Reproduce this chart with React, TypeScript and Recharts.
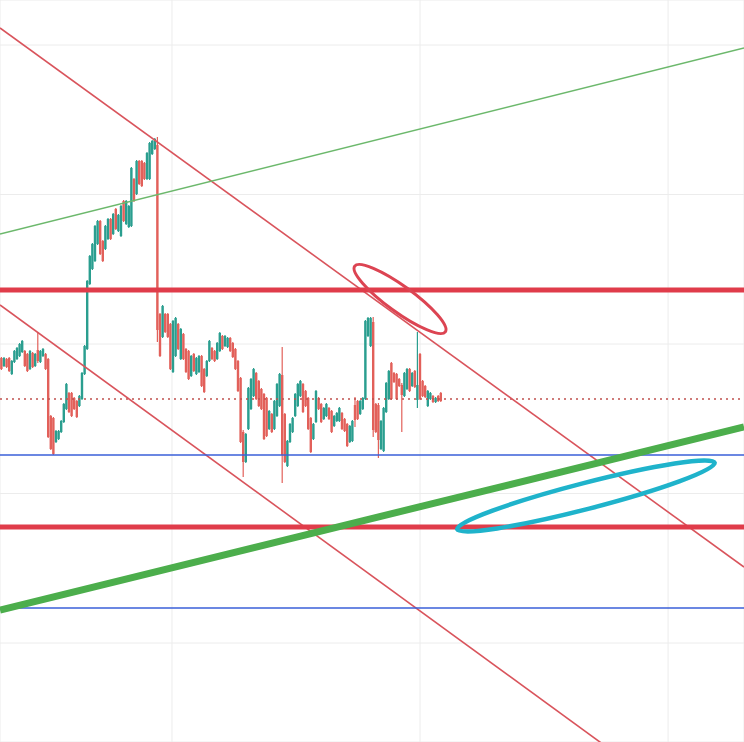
import React from "react";
import {
  ComposedChart,
  Bar,
  XAxis,
  YAxis,
  CartesianGrid,
  ReferenceLine,
  ReferenceDot,
} from "recharts";

// candle values (arbitrary price units), one entry per bar
const open = [
  38.4, 37.6, 38.3, 38.4, 36.8, 38.0, 38.3, 38.6, 39.0, 39.1,
  38.8, 37.3, 38.9, 37.6, 39.2, 38.0, 38.6, 38.8, 38.3, 32.6,
  32.4, 30.0, 30.3, 31.0, 32.0, 33.3, 34.9, 34.9, 34.4, 34.1,
  33.6, 34.3, 36.8, 39.3, 45.8, 47.3, 48.1, 49.8, 52.1, 50.1,
  49.3, 50.3, 52.3, 50.8, 53.3, 51.1, 50.6, 54.1, 51.8, 51.5,
  51.6, 56.3, 54.8, 58.1, 58.1, 57.9, 56.3, 56.3, 58.8, 59.3,
  59.7, 42.8, 40.5, 42.8, 42.8, 41.8, 37.0, 38.6, 41.8, 38.3,
  40.8, 39.3, 39.1, 36.6, 38.8, 36.8, 37.0, 38.6, 37.3, 36.6,
  38.1, 39.4, 39.1, 38.3, 39.1, 40.6, 39.6, 39.5, 40.4, 39.9,
  39.3, 38.1, 36.4, 31.0, 28.0, 31.3, 33.3, 34.6, 36.9, 36.1,
  35.3, 34.8, 34.4, 31.3, 32.8, 31.3, 32.6, 33.6, 36.7, 32.8,
  27.6, 30.0, 31.0, 32.6, 33.6, 34.6, 35.8, 35.1, 34.4, 32.4,
  30.3, 32.0, 34.4, 33.8, 32.3, 32.6, 33.4, 33.1, 31.6, 32.1,
  32.1, 32.9, 32.3, 31.8, 30.0, 30.1, 33.7, 34.1, 32.8, 33.3,
  34.3, 40.6, 39.6, 42.0, 33.8, 33.7, 29.3, 29.1, 33.0, 34.3,
  37.9, 36.9, 36.8, 36.3, 35.7, 34.6, 35.3, 37.3, 35.6, 37.1,
  34.2, 38.8, 36.1, 35.6, 33.6, 34.3, 34.6, 34.0, 34.6, 34.9,
];
const high = [
  38.5, 38.5, 38.4, 38.5, 38.2, 39.2, 39.5, 39.9, 40.2, 39.2,
  38.9, 39.2, 39.0, 38.9, 41.0, 39.2, 39.4, 38.9, 38.4, 32.7,
  32.5, 31.2, 31.2, 32.2, 33.9, 35.9, 35.0, 35.0, 34.5, 34.2,
  34.7, 37.0, 39.7, 46.2, 48.7, 49.9, 51.7, 52.2, 52.2, 50.2,
  51.7, 52.4, 52.4, 52.9, 53.4, 52.8, 53.7, 54.2, 54.2, 53.7,
  57.5, 56.4, 58.2, 58.2, 58.2, 58.0, 59.0, 60.0, 60.2, 60.4,
  60.5, 42.9, 43.7, 42.9, 42.9, 41.9, 42.2, 42.5, 41.9, 41.4,
  40.9, 39.4, 39.2, 38.7, 38.9, 38.5, 38.7, 38.7, 37.4, 38.2,
  40.2, 39.5, 39.2, 40.0, 41.0, 40.7, 40.7, 40.5, 40.5, 40.0,
  39.4, 38.2, 36.5, 31.2, 30.9, 35.5, 36.4, 37.4, 37.0, 36.2,
  35.4, 34.9, 34.5, 33.2, 32.9, 34.2, 35.9, 36.9, 39.5, 32.9,
  30.2, 31.9, 32.5, 34.9, 35.9, 36.2, 35.9, 35.2, 34.5, 32.5,
  31.9, 35.2, 34.5, 33.9, 33.5, 33.9, 33.5, 33.2, 32.7, 33.0,
  33.5, 33.0, 32.4, 31.9, 31.7, 32.2, 34.5, 34.2, 34.2, 34.5,
  42.2, 42.5, 42.5, 42.5, 33.9, 33.9, 32.2, 33.5, 36.0, 37.2,
  38.0, 37.0, 36.9, 36.4, 35.9, 37.0, 37.4, 37.4, 37.0, 37.2,
  41.0, 38.9, 36.2, 35.7, 35.2, 35.0, 34.7, 34.5, 34.7, 35.0,
];
const low = [
  37.2, 37.5, 37.4, 37.0, 36.7, 37.9, 38.2, 38.5, 38.9, 37.5,
  37.0, 37.2, 37.4, 37.5, 37.9, 37.9, 38.5, 37.2, 30.4, 29.2,
  28.7, 29.9, 30.2, 30.9, 31.9, 33.2, 32.9, 32.5, 33.2, 32.4,
  33.5, 34.2, 36.7, 39.2, 45.7, 47.2, 48.0, 49.7, 48.7, 48.0,
  49.2, 50.2, 50.2, 50.7, 51.2, 51.0, 50.5, 52.0, 51.7, 51.4,
  51.5, 54.0, 54.7, 55.7, 55.5, 56.2, 56.2, 56.2, 58.7, 59.2,
  40.0, 38.5, 40.4, 40.9, 40.4, 37.2, 36.9, 38.5, 39.2, 38.2,
  38.2, 36.9, 36.2, 36.5, 37.0, 36.7, 36.9, 35.5, 34.9, 36.5,
  38.0, 38.2, 38.0, 38.2, 39.0, 39.2, 39.5, 39.4, 39.0, 38.4,
  37.2, 35.0, 29.9, 26.5, 27.9, 31.2, 33.2, 34.5, 34.2, 33.5,
  33.2, 30.2, 30.5, 31.2, 30.9, 31.2, 32.5, 33.5, 25.9, 27.9,
  27.5, 29.9, 30.9, 32.5, 33.5, 34.5, 32.9, 33.5, 31.2, 28.9,
  30.2, 31.9, 33.2, 31.9, 32.2, 32.5, 32.2, 30.9, 31.5, 32.0,
  32.0, 31.2, 31.0, 29.5, 29.9, 30.0, 31.5, 32.2, 32.7, 33.2,
  34.2, 40.5, 39.5, 30.5, 30.9, 28.4, 29.2, 29.0, 32.9, 34.2,
  34.2, 35.9, 34.2, 35.5, 31.0, 34.5, 35.2, 35.0, 35.5, 35.4,
  33.4, 34.2, 34.5, 34.4, 33.5, 34.2, 33.9, 33.9, 34.0, 34.0,
];
const close = [
  37.3, 38.4, 37.5, 37.1, 38.1, 39.1, 39.4, 39.8, 40.1, 37.6,
  37.1, 39.1, 37.5, 38.8, 38.1, 39.1, 39.3, 37.3, 30.5, 29.3,
  28.8, 31.1, 31.1, 32.1, 33.8, 35.8, 33.0, 32.6, 33.3, 32.5,
  34.6, 36.9, 39.6, 46.1, 48.6, 49.8, 51.6, 52.1, 48.8, 48.1,
  51.6, 52.3, 50.3, 52.8, 51.3, 52.7, 53.6, 52.1, 54.1, 53.6,
  57.4, 54.1, 58.1, 55.8, 55.6, 56.3, 58.9, 59.9, 60.1, 60.3,
  41.2, 38.6, 43.6, 41.0, 40.5, 37.3, 42.1, 42.4, 39.3, 41.3,
  38.3, 37.0, 36.3, 38.6, 37.1, 38.4, 38.6, 35.6, 35.0, 38.1,
  40.1, 38.3, 38.1, 39.9, 40.9, 39.3, 40.6, 40.4, 39.1, 38.5,
  37.3, 35.1, 30.0, 28.0, 30.8, 35.4, 36.3, 37.3, 34.3, 33.6,
  33.3, 30.3, 30.6, 33.1, 31.0, 34.1, 35.8, 36.8, 28.7, 28.0,
  30.1, 31.8, 32.4, 34.8, 35.8, 36.1, 33.0, 33.6, 31.3, 29.0,
  31.8, 35.1, 33.3, 32.0, 33.4, 33.8, 32.3, 31.0, 32.6, 32.9,
  33.4, 31.3, 31.1, 29.6, 31.6, 32.1, 32.2, 32.3, 34.1, 34.4,
  42.1, 42.4, 42.4, 31.2, 31.0, 30.2, 32.1, 33.4, 35.9, 37.1,
  34.3, 36.0, 34.3, 35.6, 34.7, 36.9, 37.3, 35.1, 36.9, 35.5,
  35.7, 34.3, 34.6, 34.5, 35.1, 34.9, 34.0, 34.4, 34.1, 34.1,
];

// horizontal levels
const resistance = [45.2, 21.5];
const support = [28.7, 13.4];
const lastPrice = 34.3;

// drawn trend lines: [x1, y1, x2, y2]
const X0 = -0.65;
const X1 = 285.5;
const thinRed = [
  [X0, 71.4, X1, 17.5],
  [X0, 43.7, X1, -10.5],
];
const thinGreen = [X0, 50.8, X1, 69.4];
const thickGreen = [X0, 13.2, X1, 31.5];

const xTicks = [65.5, 160.9, 256.3];
const yTicks = [9.9, 24.85, 39.8, 54.75, 69.7];

const data = open.map((o, i) => ({
  i,
  open: o,
  high: high[i],
  low: low[i],
  close: close[i],
}));

const UP = "#2a9e8f";
const DOWN = "#e2605a";

const Candle = (props: any) => {
  const { x, y, width, height, payload } = props;
  const top = Math.min(y, y + height);
  const h = Math.abs(height);
  const range = payload.high - payload.low || 1;
  const ppu = h / range;
  const yo = top + (payload.high - payload.open) * ppu;
  const yc = top + (payload.high - payload.close) * ppu;
  const cx = x + width / 2;
  const color = payload.close >= payload.open ? UP : DOWN;
  return (
    <g>
      <line x1={cx} x2={cx} y1={top} y2={top + h} stroke={color} strokeWidth={1.2} />
      <rect
        x={cx - 1.2}
        y={Math.min(yo, yc)}
        width={2.4}
        height={Math.max(1, Math.abs(yc - yo))}
        fill={color}
      />
    </g>
  );
};

const ellipseShape = (rx: number, ry: number, angle: number, color: string, sw: number) => (props: any) => (
  <ellipse
    cx={props.cx}
    cy={props.cy}
    rx={rx}
    ry={ry}
    fill="none"
    stroke={color}
    strokeWidth={sw}
    transform={`rotate(${angle} ${props.cx} ${props.cy})`}
  />
);

const seg = (s: number[]) => [
  { x: s[0], y: s[1] },
  { x: s[2], y: s[3] },
];

export default function App() {
  return (
    <div style={{ position: "absolute", left: 0, top: 0, width: 744, height: 742, background: "#fff" }}>
      <ComposedChart width={744} height={742} data={data} margin={{ top: 0, right: 0, bottom: 0, left: 0 }}>
        <XAxis dataKey="i" type="number" domain={[X0, X1]} ticks={xTicks} hide allowDataOverflow />
        <YAxis type="number" domain={[0, 74.2]} ticks={yTicks} hide allowDataOverflow />
        <CartesianGrid stroke="#ececec" strokeWidth={1} />

        <ReferenceLine y={lastPrice} stroke="#c0504d" strokeWidth={1.5} strokeDasharray="2 4" />

        <Bar dataKey={(d: any) => [d.low, d.high]} barSize={2} shape={<Candle />} isAnimationActive={false} />

        {thinRed.map((s, k) => (
          <ReferenceLine key={"r" + k} segment={seg(s)} stroke="#d9545c" strokeWidth={1.6} ifOverflow="hidden" />
        ))}
        <ReferenceLine segment={seg(thinGreen)} stroke="#6cb86c" strokeWidth={1.5} ifOverflow="hidden" />

        {support.map((v) => (
          <ReferenceLine key={"s" + v} y={v} stroke="#3a5fd8" strokeWidth={1.5} />
        ))}
        {resistance.map((v) => (
          <ReferenceLine key={"t" + v} y={v} stroke="#e03c4a" strokeWidth={5} />
        ))}
        <ReferenceLine segment={seg(thickGreen)} stroke="#4cae4c" strokeWidth={7} ifOverflow="hidden" />

        <ReferenceDot x={153.2} y={44.3} r={1} shape={ellipseShape(56, 13, 36, "#dc4452", 3)} />
        <ReferenceDot x={224.7} y={24.6} r={1} shape={ellipseShape(133, 13, -14.5, "#1fb3cb", 4.5)} />
      </ComposedChart>
    </div>
  );
}
